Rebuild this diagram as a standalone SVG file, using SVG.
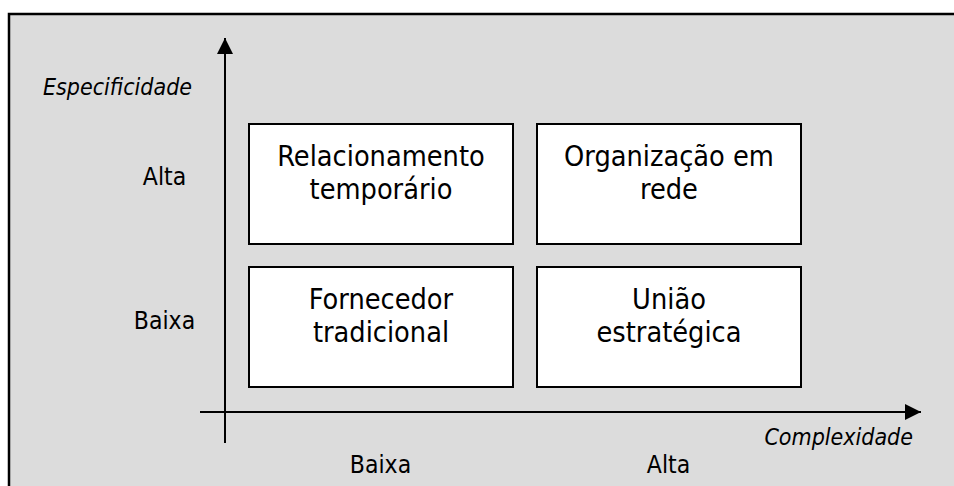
<svg xmlns="http://www.w3.org/2000/svg" width="954" height="486" viewBox="0 0 954 486">
<defs>
<style>
.t{font-family:"DejaVu Sans Condensed","DejaVu Sans",sans-serif;font-stretch:condensed;fill:#000}
.box{fill:#fff;stroke:#000;stroke-width:2}
.ax{stroke:#000;stroke-width:2;fill:none}
.bx{font-size:28.6px;text-anchor:middle}
.lb{font-size:24.5px;text-anchor:middle}
.it{font-size:23px;font-style:italic}
</style>
<marker id="ah" viewBox="0 0 16 16" refX="16" refY="8" markerWidth="16" markerHeight="16" markerUnits="userSpaceOnUse" orient="auto">
<path d="M0,0 L16,8 L0,16 Z" fill="#000"/>
</marker>
</defs>
<rect x="9" y="14" width="960" height="490" fill="#dcdcdc" stroke="#000" stroke-width="2.5"/>
<g id="connectors">
<line class="ax" x1="225" y1="443" x2="225" y2="38" marker-end="url(#ah)"/>
<line class="ax" x1="200" y1="412" x2="921" y2="412" marker-end="url(#ah)"/>
</g>
<g id="n1"><rect class="box" x="249" y="124" width="264" height="120"/>
<text class="t bx" x="381" y="166">Relacionamento</text><text class="t bx" x="381" y="199">temporário</text></g>
<g id="n2"><rect class="box" x="537" y="124" width="264" height="120"/>
<text class="t bx" x="669" y="166">Organização em</text><text class="t bx" x="669" y="199">rede</text></g>
<g id="n3"><rect class="box" x="249" y="267" width="264" height="120"/>
<text class="t bx" x="381" y="309">Fornecedor</text><text class="t bx" x="381" y="342">tradicional</text></g>
<g id="n4"><rect class="box" x="537" y="267" width="264" height="120"/>
<text class="t bx" x="669" y="309">União</text><text class="t bx" x="669" y="342">estratégica</text></g>
<g id="labels">
<text class="t it" x="43" y="95">Especificidade</text>
<text class="t it" x="913" y="445" text-anchor="end">Complexidade</text>
<text class="t lb" x="164.5" y="185">Alta</text>
<text class="t lb" x="164.5" y="329">Baixa</text>
<text class="t lb" x="380.5" y="473">Baixa</text>
<text class="t lb" x="668.5" y="473">Alta</text>
</g>
</svg>
